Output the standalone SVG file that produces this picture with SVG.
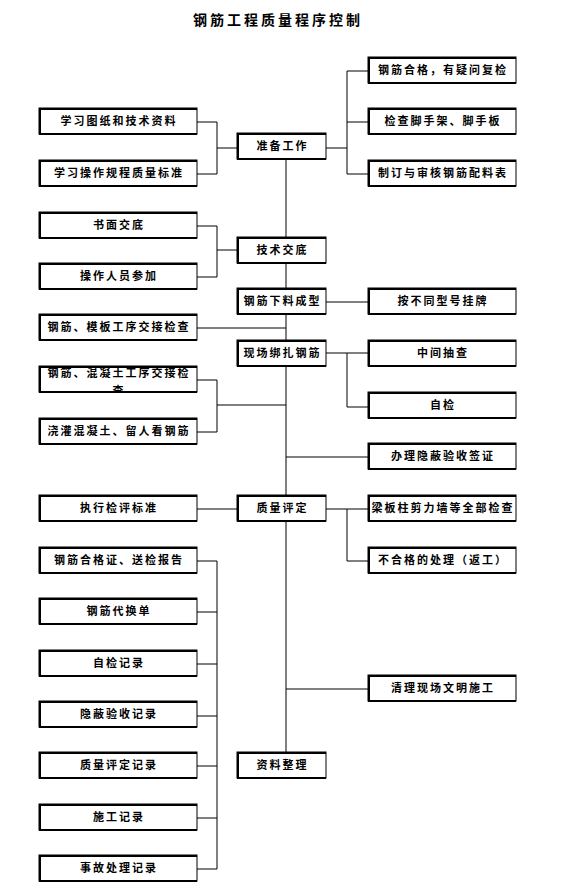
<svg xmlns="http://www.w3.org/2000/svg" width="582" height="896" viewBox="0 0 582 896">
<defs>
<style>
.bx{fill:#fff;stroke:#000;stroke-width:1}
.th{stroke:#000;stroke-width:2;fill:none}
.t{font-family:"Noto Sans CJK SC","Noto Sans",sans-serif;font-size:11px;font-weight:700;letter-spacing:2px;text-anchor:middle;fill:#000}
.ti{font-family:"Noto Sans CJK SC","Noto Sans",sans-serif;font-size:14px;font-weight:700;letter-spacing:3px;text-anchor:middle;fill:#000}
.c{stroke:#000;stroke-width:1;fill:none}
</style>
<clipPath id="clip6"><rect x="39" y="366" width="158" height="25"/></clipPath>
</defs>
<rect width="582" height="896" fill="#fff"/>
<text class="ti" x="278" y="25">钢筋工程质量程序控制</text>
<g id="connectors">
<path class="c" d="M286,160 V752"/>
<path class="c" d="M197,122 H217 V174 H197 M217,148 H237"/>
<path class="c" d="M326,148 H347 M347,71 V174 M347,71 H368 M347,122 H368 M347,174 H368"/>
<path class="c" d="M197,226 H217 V277 H197 M217,250 H237"/>
<path class="c" d="M326,302 H368"/>
<path class="c" d="M197,328 H286"/>
<path class="c" d="M326,353 H368 M347,353 V407 H368"/>
<path class="c" d="M197,380 H217 V432 H197 M217,405 H286"/>
<path class="c" d="M286,457 H368"/>
<path class="c" d="M197,509 H237"/>
<path class="c" d="M326,509 H368 M347,509 V561 H368"/>
<path class="c" d="M197,561 H217 V869 H197 M197,612 H217 M197,664 H217 M197,716 H217 M197,766 H217 M197,818 H217"/>
<path class="c" d="M286,689 H368"/>
</g>
<g id="L1"><rect class="bx" x="39" y="108" width="158" height="26"/><path class="th" d="M39,109 H197 M39,134 H197 M40,108 V134"/><text class="t" x="119" y="125">学习图纸和技术资料</text></g>
<g id="L2"><rect class="bx" x="39" y="160" width="158" height="26"/><path class="th" d="M39,161 H197 M39,186 H197 M40,160 V186"/><text class="t" x="119" y="177">学习操作规程质量标准</text></g>
<g id="L3"><rect class="bx" x="39" y="212" width="158" height="26"/><path class="th" d="M39,213 H197 M39,238 H197 M40,212 V238"/><text class="t" x="119" y="229">书面交底</text></g>
<g id="L4"><rect class="bx" x="39" y="263" width="158" height="26"/><path class="th" d="M39,264 H197 M39,289 H197 M40,263 V289"/><text class="t" x="119" y="280">操作人员参加</text></g>
<g id="L5"><rect class="bx" x="39" y="314" width="158" height="26"/><path class="th" d="M39,315 H197 M39,340 H197 M40,314 V340"/><text class="t" x="119" y="331">钢筋、模板工序交接检查</text></g>
<g id="L6"><rect class="bx" x="39" y="366" width="158" height="26"/><g clip-path="url(#clip6)"><text class="t" x="119" y="377">钢筋、混凝土工序交接检</text><text class="t" x="119" y="395">查</text></g><path class="th" d="M39,367 H197 M39,392 H197 M40,366 V392"/></g>
<g id="L7"><rect class="bx" x="39" y="418" width="158" height="26"/><path class="th" d="M39,419 H197 M39,444 H197 M40,418 V444"/><text class="t" x="119" y="435">浇灌混凝土、留人看钢筋</text></g>
<g id="L8"><rect class="bx" x="39" y="495" width="158" height="26"/><path class="th" d="M39,496 H197 M39,521 H197 M40,495 V521"/><text class="t" x="119" y="512">执行检评标准</text></g>
<g id="L9"><rect class="bx" x="39" y="547" width="158" height="26"/><path class="th" d="M39,548 H197 M39,573 H197 M40,547 V573"/><text class="t" x="119" y="564">钢筋合格证、送检报告</text></g>
<g id="L10"><rect class="bx" x="39" y="598" width="158" height="26"/><path class="th" d="M39,599 H197 M39,624 H197 M40,598 V624"/><text class="t" x="119" y="615">钢筋代换单</text></g>
<g id="L11"><rect class="bx" x="39" y="650" width="158" height="26"/><path class="th" d="M39,651 H197 M39,676 H197 M40,650 V676"/><text class="t" x="119" y="667">自检记录</text></g>
<g id="L12"><rect class="bx" x="39" y="701" width="158" height="26"/><path class="th" d="M39,702 H197 M39,727 H197 M40,701 V727"/><text class="t" x="119" y="718">隐蔽验收记录</text></g>
<g id="L13"><rect class="bx" x="39" y="752" width="158" height="26"/><path class="th" d="M39,753 H197 M39,778 H197 M40,752 V778"/><text class="t" x="119" y="769">质量评定记录</text></g>
<g id="L14"><rect class="bx" x="39" y="804" width="158" height="26"/><path class="th" d="M39,805 H197 M39,830 H197 M40,804 V830"/><text class="t" x="119" y="821">施工记录</text></g>
<g id="L15"><rect class="bx" x="39" y="855" width="158" height="26"/><path class="th" d="M39,856 H197 M39,881 H197 M40,855 V881"/><text class="t" x="119" y="872">事故处理记录</text></g>
<g id="C1"><rect class="bx" x="237" y="133" width="89" height="26"/><path class="th" d="M237,134 H326 M237,159 H326 M238,133 V159"/><text class="t" x="282.5" y="150">准备工作</text></g>
<g id="C2"><rect class="bx" x="237" y="237" width="89" height="26"/><path class="th" d="M237,238 H326 M237,263 H326 M238,237 V263"/><text class="t" x="282.5" y="254">技术交底</text></g>
<g id="C3"><rect class="bx" x="237" y="288" width="89" height="26"/><path class="th" d="M237,289 H326 M237,314 H326 M238,288 V314"/><text class="t" x="282.5" y="305">钢筋下料成型</text></g>
<g id="C4"><rect class="bx" x="237" y="340" width="89" height="26"/><path class="th" d="M237,341 H326 M237,366 H326 M238,340 V366"/><text class="t" x="282.5" y="357">现场绑扎钢筋</text></g>
<g id="C5"><rect class="bx" x="237" y="495" width="89" height="26"/><path class="th" d="M237,496 H326 M237,521 H326 M238,495 V521"/><text class="t" x="282.5" y="512">质量评定</text></g>
<g id="C6"><rect class="bx" x="237" y="752" width="89" height="26"/><path class="th" d="M237,753 H326 M237,778 H326 M238,752 V778"/><text class="t" x="282.5" y="769">资料整理</text></g>
<g id="R1"><rect class="bx" x="368" y="57" width="148" height="26"/><path class="th" d="M368,58 H516 M368,83 H516 M369,57 V83"/><text class="t" x="443" y="74">钢筋合格，有疑问复检</text></g>
<g id="R2"><rect class="bx" x="368" y="108" width="148" height="26"/><path class="th" d="M368,109 H516 M368,134 H516 M369,108 V134"/><text class="t" x="443" y="125">检查脚手架、脚手板</text></g>
<g id="R3"><rect class="bx" x="368" y="160" width="148" height="26"/><path class="th" d="M368,161 H516 M368,186 H516 M369,160 V186"/><text class="t" x="443" y="177">制订与审核钢筋配料表</text></g>
<g id="R4"><rect class="bx" x="368" y="288" width="148" height="26"/><path class="th" d="M368,289 H516 M368,314 H516 M369,288 V314"/><text class="t" x="443" y="305">按不同型号挂牌</text></g>
<g id="R5"><rect class="bx" x="368" y="340" width="148" height="26"/><path class="th" d="M368,341 H516 M368,366 H516 M369,340 V366"/><text class="t" x="443" y="357">中间抽查</text></g>
<g id="R6"><rect class="bx" x="368" y="392" width="148" height="26"/><path class="th" d="M368,393 H516 M368,418 H516 M369,392 V418"/><text class="t" x="443" y="409">自检</text></g>
<g id="R7"><rect class="bx" x="368" y="443" width="148" height="26"/><path class="th" d="M368,444 H516 M368,469 H516 M369,443 V469"/><text class="t" x="443" y="460">办理隐蔽验收签证</text></g>
<g id="R8"><rect class="bx" x="368" y="495" width="148" height="26"/><path class="th" d="M368,496 H516 M368,521 H516 M369,495 V521"/><text class="t" x="443" y="512">梁板柱剪力墙等全部检查</text></g>
<g id="R9"><rect class="bx" x="368" y="547" width="148" height="26"/><path class="th" d="M368,548 H516 M368,573 H516 M369,547 V573"/><text class="t" x="443" y="564">不合格的处理（返工）</text></g>
<g id="R10"><rect class="bx" x="368" y="675" width="148" height="26"/><path class="th" d="M368,676 H516 M368,701 H516 M369,675 V701"/><text class="t" x="443" y="692">清理现场文明施工</text></g>
</svg>
